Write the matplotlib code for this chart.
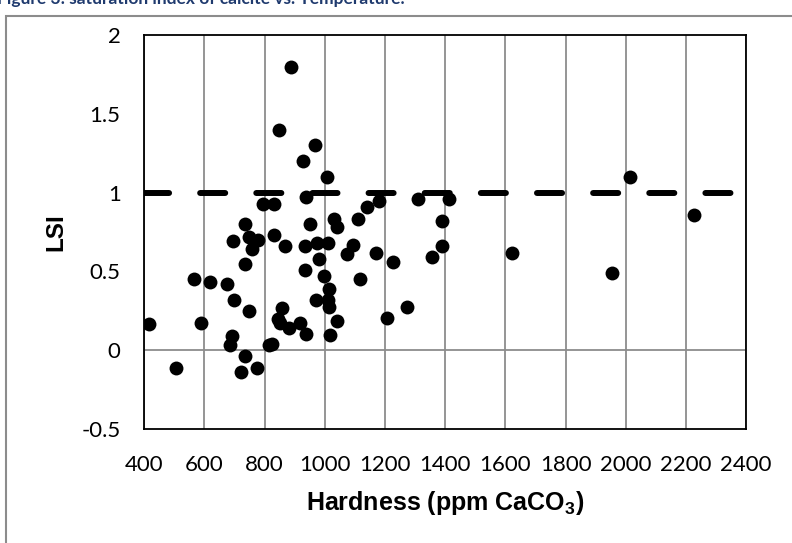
import matplotlib
matplotlib.use("Agg")
import matplotlib.pyplot as plt
from matplotlib.patches import Rectangle

plt.rcParams["mathtext.fontset"] = "custom"
plt.rcParams["mathtext.rm"] = "Liberation Sans"
plt.rcParams["mathtext.bf"] = "Liberation Sans:bold"

# hardness (ppm CaCO3) and LSI
hardness = [415, 506, 564, 590, 618, 675, 684, 690, 696, 698,
            721, 735, 735, 736, 747, 749, 759, 774, 779, 793,
            815, 826, 830, 832, 846, 847, 851, 857, 869, 882,
            886, 918, 926, 935, 935, 936, 939, 951, 968, 972,
            973, 980, 997, 1007, 1009, 1012, 1014, 1015, 1018, 1032,
            1040, 1042, 1074, 1094, 1110, 1116, 1140, 1169, 1181, 1206,
            1227, 1272, 1309, 1356, 1389, 1389, 1414, 1623, 1955, 2013,
            2228]
lsi = [0.165, -0.11, 0.45, 0.17, 0.43, 0.42, 0.03, 0.09, 0.69, 0.32,
       -0.14, 0.80, 0.55, -0.035, 0.25, 0.72, 0.64, -0.11, 0.70, 0.93,
       0.035, 0.04, 0.73, 0.93, 0.20, 1.40, 0.17, 0.27, 0.66, 0.14,
       1.80, 0.17, 1.20, 0.66, 0.51, 0.105, 0.97, 0.80, 1.30, 0.32,
       0.68, 0.58, 0.47, 1.10, 0.68, 0.32, 0.39, 0.275, 0.095, 0.83,
       0.185, 0.78, 0.61, 0.67, 0.83, 0.455, 0.91, 0.62, 0.95, 0.205,
       0.56, 0.275, 0.96, 0.59, 0.82, 0.66, 0.96, 0.62, 0.49, 1.10,
       0.86]

# saturation reference line
ref_x = [400, 2400]
ref_y = [1, 1]

xticks = [400, 600, 800, 1000, 1200, 1400, 1600, 1800, 2000, 2200, 2400]
yticks = [-0.5, 0, 0.5, 1, 1.5, 2]
ytick_labels = ["-0.5", "0", "0.5", "1", "1.5", "2"]

fig = plt.figure(figsize=(7.92, 5.43), dpi=100)
ax = fig.add_axes([0.1822, 0.2099, 0.7598, 0.7256])

# outer chart frame (only top and left visible in the crop)
fig.patches.append(Rectangle((6 / 792, -0.1), 1.2, 1 - 16 / 543 + 0.1,
                             transform=fig.transFigure, fill=False,
                             edgecolor="#8c8c8c", linewidth=1.5))

# caption, cut off at the top of the picture like in the source
fig.text(-3 / 792, 1 - 4 / 543, "Figure 3: saturation index of calcite vs. Temperature.",
         ha="left", va="baseline", fontsize=12.5, fontweight="bold",
         family="Lato", color="#1F3A6E")

for gx in xticks:
    ax.axvline(gx, color="#8c8c8c", linewidth=1.3, zorder=1)
ax.axhline(0, color="#8c8c8c", linewidth=1.3, zorder=1)

line, = ax.plot(ref_x, ref_y, color="black", linewidth=4.3,
                solid_capstyle="round", dash_capstyle="round", zorder=2)
line.set_dashes((4.2, 5.2))

ax.scatter(hardness, lsi, s=100, color="black", linewidths=0, zorder=3)

ax.set_xlim(400, 2400)
ax.set_ylim(-0.5, 2)
ax.set_xticks(xticks)
ax.set_xticklabels([str(t) for t in xticks], family="Lato", fontsize=16)
ax.set_yticks(yticks)
ax.set_yticklabels(ytick_labels, family="Lato", fontsize=16)
ax.tick_params(axis="both", length=0)
ax.tick_params(axis="x", pad=19)
ax.tick_params(axis="y", pad=17)

for sp in ax.spines.values():
    sp.set_color("black")
    sp.set_linewidth(1.3)

ax.set_xlabel("Hardness (ppm CaCO$_\\mathbf{3}$)", family="Liberation Sans",
              fontsize=18, fontweight="bold", labelpad=10)
ax.set_ylabel("LSI", family="Liberation Sans", fontsize=17.5,
              fontweight="bold", labelpad=10)

fig.savefig("out.png", dpi=100)
